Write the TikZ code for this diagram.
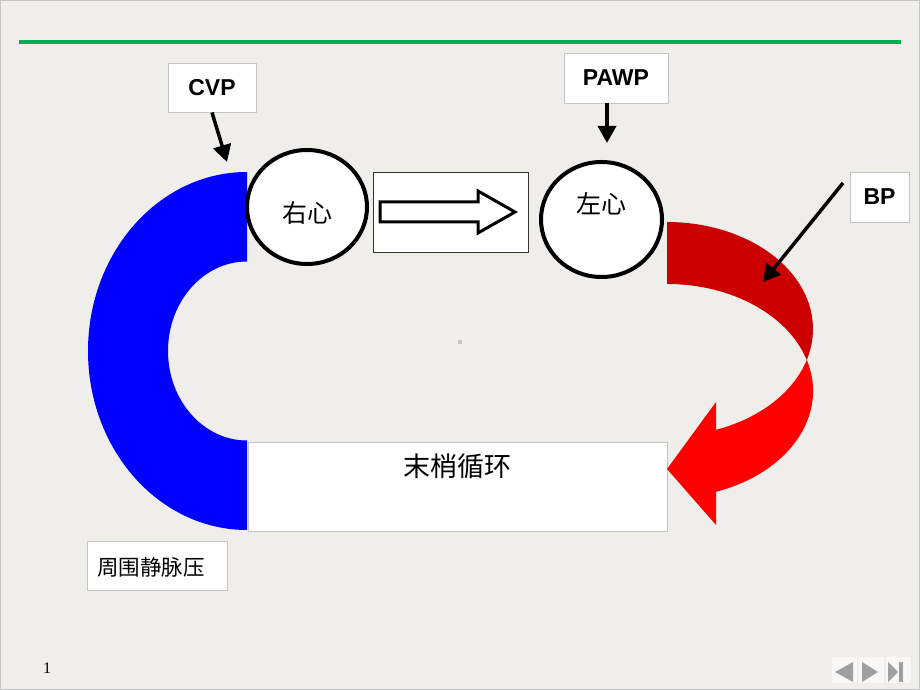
\documentclass[tikz,border=0pt]{standalone}
\usepackage{fontspec}
\newfontfamily\arial{Liberation Sans}
\newfontfamily\cjk{Noto Sans CJK SC}
\newfontfamily\tnr{Liberation Serif}
\usetikzlibrary{arrows.meta,shapes.geometric}
\definecolor{bg}{RGB}{240,238,235}
\definecolor{greenline}{RGB}{0,176,80}
\definecolor{darkred}{RGB}{204,0,0}
\definecolor{brightred}{RGB}{255,0,0}
\definecolor{pureblue}{RGB}{0,0,255}
\definecolor{boxline}{RGB}{196,196,196}
\definecolor{navgrey}{RGB}{160,160,160}
\tikzset{
  lbl/.style={draw=boxline, line width=0.8pt, fill=white, inner sep=0pt, font=\arial\bfseries\fontsize{23}{26}\selectfont},
  heart/.style={draw=black, line width=4pt, fill=white, ellipse, inner sep=0pt},
  cjktext/.style={inner sep=0pt, font=\cjk\fontsize{25}{28}\selectfont},
  ptr/.style={line width=3.5pt, -{Triangle[length=17pt,width=18pt]}},
}
\begin{document}
\begin{tikzpicture}[x=1pt,y=1pt]
\useasboundingbox (0,0) rectangle (920,690);
\fill[bg] (0,0) rectangle (920,690);
\draw[boxline, line width=1pt] (0.5,0.5) rectangle (919.5,689.5);
% green rule
\draw[greenline, line width=4pt] (19,648) -- (901,648);
% faint centre dot
\fill[gray!45] (458,346) rectangle (462,350);
% blue band
\fill[pureblue] (247,518) arc[start angle=90, end angle=270, x radius=159pt, y radius=179pt]
  -- (247,249.5) arc[start angle=270, end angle=90, x radius=79pt, y radius=89.5pt] -- cycle;
% peripheral circulation box
\node[draw=boxline, line width=0.8pt, fill=white, minimum width=419pt, minimum height=89pt, inner sep=0pt] (peri) at (457.5,203.5) {};
\node[inner sep=0pt, font=\cjk\fontsize{27}{30}\selectfont] (peritxt) at (457,224) {末梢循环};
% peripheral venous pressure box
\node[draw=boxline, line width=0.6pt, fill=white, minimum width=140pt, minimum height=49pt, inner sep=0pt] (pvp) at (157,124.5) {};
\node[inner sep=0pt, font=\cjk\fontsize{21.5}{24}\selectfont] (pvptxt) at (151,123) {周围静脉压};
% red curved arrow: dark back part
\fill[darkred] (667,468) arc[start angle=90, end angle=-16.84, x radius=146pt, y radius=107pt]
  arc[start angle=16.84, end angle=90, x radius=146pt, y radius=107pt] -- cycle;
% bright front part with head
\fill[brightred] (806.8,330) arc[start angle=16.84, end angle=-70.39, x radius=146pt, y radius=107pt]
  -- (716,165) -- (667,221) -- (716,288) -- (716,260.2)
  arc[start angle=-70.39, end angle=-16.84, x radius=146pt, y radius=107pt] -- cycle;
% hearts
\node[heart, minimum width=120pt, minimum height=114pt] (rh) at (307,483) {};
\node[cjktext] (rhtxt) at (307,477) {右心};
\node[heart, minimum width=121pt, minimum height=115pt] (lh) at (601.5,470.5) {};
\node[cjktext] (lhtxt) at (601,486) {左心};
% flow box with outline arrow
\node[draw=black!80, line width=0.8pt, fill=white, minimum width=155pt, minimum height=80pt, inner sep=0pt] (flow) at (450.5,478) {};
\draw[line width=3pt, line join=miter, fill=white] (380,488) -- (478,488) -- (478,499) -- (515,478) -- (478,457) -- (478,468) -- (380,468) -- cycle;
% labels
\node[lbl, minimum width=88pt, minimum height=49pt] (cvp) at (212,602.5) {CVP};
\node[lbl, minimum width=104pt, minimum height=50pt] (pawp) at (616,612) {PAWP};
\node[lbl, minimum width=59pt, minimum height=50pt] (bp) at (879.5,493) {BP};
\coordinate (cvptip) at (227,528);
\coordinate (pawptip) at (607,547);
\coordinate (bptip) at (763,408);
\draw[ptr] (212,577.5) -- (cvptip);
\draw[ptr] (607,586.5) -- (pawptip);
\draw[ptr] (843,507) -- (bptip);
% page number
\node[inner sep=0pt, font=\tnr\fontsize{16}{18}\selectfont] (pgnum) at (47,22) {1};
% navigation buttons
\fill[white!60!bg] (832,7) rectangle (857,33);
\fill[white!60!bg] (859,7) rectangle (884,33);
\fill[white!60!bg] (886,7) rectangle (911,33);
\fill[navgrey] (835,18) -- (853,28) -- (853,8) -- cycle;
\fill[navgrey] (862,28) -- (878,18) -- (862,8) -- cycle;
\fill[navgrey] (888,28) -- (898,18) -- (888,8) -- cycle;
\fill[navgrey] (899,8) rectangle (903,28);
\end{tikzpicture}
\end{document}
